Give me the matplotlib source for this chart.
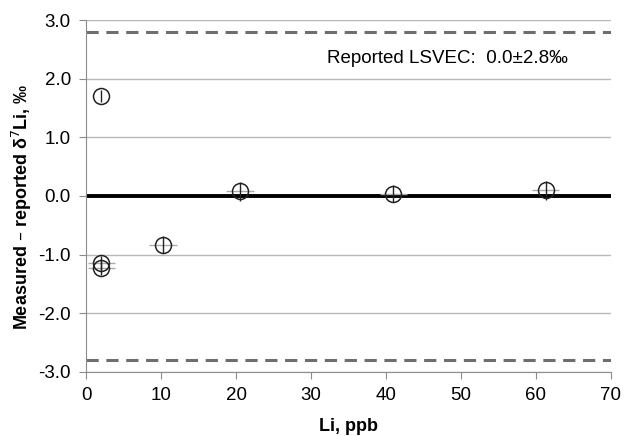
import matplotlib
matplotlib.use("Agg")
import matplotlib.pyplot as plt
import numpy as np

plt.rcParams['font.family'] = ['Liberation Sans', 'DejaVu Sans']

li_ppb = [2.0, 2.0, 2.0, 10.3, 20.5, 41.0, 61.3]
delta = [1.70, -1.15, -1.22, -0.83, 0.08, 0.04, 0.10]
yerr = [0.10, 0.12, 0.12, 0.15, 0.16, 0.15, 0.16]
xerr = [0.0, 1.8, 1.8, 1.85, 1.9, 1.8, 1.8]
lsvec_unc = 2.8
xticks = [0, 10, 20, 30, 40, 50, 60, 70]
yticks = [-3.0, -2.0, -1.0, 0.0, 1.0, 2.0, 3.0]

fig = plt.figure(figsize=(6.29, 4.36), dpi=100)
ax = fig.add_axes([0.137, 0.147, 0.834, 0.807])

ax.set_xlim(0, 70)
ax.set_ylim(-3.0, 3.0)
ax.set_xticks(xticks)
ax.set_yticks(yticks)
ax.set_yticklabels([f"{v:.1f}" for v in yticks])
ax.grid(axis='y', color='#b8b8b8', linewidth=1.0)
ax.set_axisbelow(True)
for s in ['top', 'right']:
    ax.spines[s].set_visible(False)
for s in ['left', 'bottom']:
    ax.spines[s].set_color('#8c8c8c')
ax.tick_params(colors='#8c8c8c', labelcolor='black', labelsize=13.5, length=5, direction='out', pad=6)

ax.axhline(lsvec_unc, color='#6e6e6e', linestyle=(0, (4, 2.5)), linewidth=2.2)
ax.axhline(-lsvec_unc, color='#6e6e6e', linestyle=(0, (4, 2.5)), linewidth=2.2)
ax.plot([0.3, 70], [0, 0], color='black', linewidth=2.8, zorder=2)

ax.errorbar(li_ppb, delta, xerr=xerr, fmt='none', ecolor='#aaaaaa', elinewidth=1.0, zorder=3)
ax.errorbar(li_ppb, delta, yerr=yerr, fmt='none', ecolor='#222222', elinewidth=1.0, zorder=4)
ax.plot(li_ppb, delta, linestyle='none', marker='o', markersize=11.5,
        markerfacecolor='none', markeredgecolor='#222222', markeredgewidth=1.1, zorder=5)

ax.text(64.3, 2.35, "Reported LSVEC:  0.0\u00b12.8\u2030", ha='right', va='center', fontsize=13.5)

ax.set_xlabel("Li, ppb", fontsize=13, fontweight='bold', labelpad=10)
ax.set_ylabel("Measured \u2013 reported \u03b4$^{7}$Li, \u2030", fontsize=13, fontweight='bold', labelpad=6)
ax.yaxis.set_label_coords(-0.1, 0.47)

fig.savefig("out.png", dpi=100)
